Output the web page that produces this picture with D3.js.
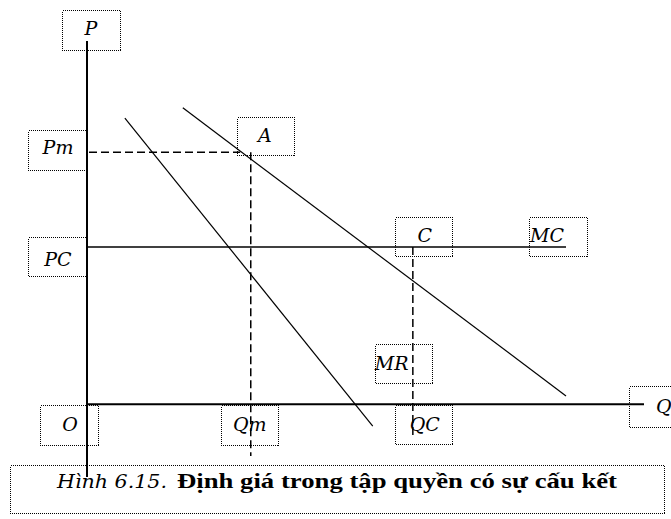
<!DOCTYPE html>
<html lang="vi">
<head>
<meta charset="UTF-8">
<title>Hình 6.15</title>
<script src="https://d3js.org/d3.v7.min.js"></script>
<style>
  body { margin: 0; background: #fff; }
  .lbl { font-family: "DejaVu Serif", serif; font-style: italic; font-size: 19px; }
</style>
</head>
<body>
<svg width="671" height="519"></svg>
<script>
// du lieu doc tu hinh (don vi tuy y)
var pAxis = [-2, 10];          // truc P (keo xuong duoi goc O)
var qAxis = [0, 10];           // truc Q
var demand = [{q: 1.72, p: 8.16}, {q: 8.6, p: 0.23}];   // duong cau (qua A, C)
var mr = [{q: 0.68, p: 7.88}, {q: 5.13, p: -0.6}];      // duong MR
var mcLevel = 4.33, mcEnd = 8.6;
var Pm = 6.94, Qm = 2.94, QC = 5.85;
var qmBottom = -1.42, qcBottom = -0.9, pmDashEnd = 2.75;
var labelText = ["P", "Pm", "A", "PC", "C", "MC", "MR", "O", "Qm", "QC", "Q"];
var caption1 = "Hình 6.15.", caption2 = "Định giá trong tập quyền có sự cấu kết";

var svg = d3.select("svg");
var x = d3.scaleLinear().domain(qAxis).range([87, 644]);
var y = d3.scaleLinear().domain(pAxis).range([477, 41]);

var line = d3.line().x(function(d){ return x(d.q); }).y(function(d){ return y(d.p); });

// khung chu thich duoi cung
svg.append("rect")
  .attr("x", 10.5).attr("y", 465.5).attr("width", 654).attr("height", 48)
  .attr("fill", "none").attr("stroke", "#000").attr("stroke-dasharray", "1,1")
  .attr("shape-rendering", "crispEdges");

svg.append("text").attr("x", 57).attr("y", 488).text(caption1)
  .attr("font-family", "DejaVu Serif").attr("font-style", "italic").attr("font-size", "18px")
  .attr("textLength", 110).attr("lengthAdjust", "spacingAndGlyphs");
svg.append("text").attr("x", 177).attr("y", 488).text(caption2)
  .attr("font-family", "Liberation Serif").attr("font-weight", "bold").attr("font-size", "21px")
  .attr("textLength", 440).attr("lengthAdjust", "spacingAndGlyphs");

// hop nhan (vien cham)
function box(x0, y0, w, h, t, anchor, tx, ty) {
  svg.append("rect")
    .attr("x", Math.round(x0) + 0.5).attr("y", Math.round(y0) + 0.5)
    .attr("width", w).attr("height", h)
    .attr("fill", "none").attr("stroke", "#000").attr("stroke-dasharray", "1,1")
    .attr("shape-rendering", "crispEdges");
  svg.append("text").attr("class", "lbl")
    .attr("x", tx).attr("y", ty).attr("text-anchor", anchor).text(t);
}

var bw = 57, bh = 39;
var o = x(0), base = y(0);
box(o - 25, y(pAxis[1]) - 31, 58, 40, labelText[0], "middle", o + 4, y(pAxis[1]) - 6);
box(o - 59, y(Pm) - 22, 59, 40, labelText[1], "middle", o - 29, y(Pm) + 2);
box(x(Qm) - 14, y(Pm) - 35, bw, 38, labelText[2], "middle", x(Qm) + 14, y(Pm) - 10);
box(o - 59, y(mcLevel) - 10, 59, 39, labelText[3], "middle", o - 29, y(mcLevel) + 19);
box(x(QC) - 18, y(mcLevel) - 30, bw, bh, labelText[4], "middle", x(QC) + 12, y(mcLevel) - 5);
box(x(mcEnd) - 37, y(mcLevel) - 30, 58, bh, labelText[5], "start", x(mcEnd) - 36, y(mcLevel) - 5);
box(x(QC) - 38, y(mcLevel) + 97, bw, bh, labelText[6], "start", x(QC) - 38, y(mcLevel) + 123);
box(o - 47, base + 1, 58, 40, labelText[7], "middle", o - 17, base + 27);
box(x(Qm) - 30, base + 1, bw, 40, labelText[8], "middle", x(Qm) - 1, base + 27);
box(x(QC) - 18, base + 1, bw, bh, labelText[9], "middle", x(QC) + 12, base + 27);
box(x(qAxis[1]) - 15, base - 18, 58, 41, labelText[10], "start", x(qAxis[1]) + 12, base + 9);

// truc toa do
svg.append("line")
  .attr("x1", x(0)).attr("x2", x(0)).attr("y1", y(pAxis[0])).attr("y2", y(pAxis[1]))
  .attr("stroke", "#000").attr("stroke-width", 2);
svg.append("line")
  .attr("x1", x(qAxis[0])).attr("x2", x(qAxis[1])).attr("y1", y(0)).attr("y2", y(0))
  .attr("stroke", "#000").attr("stroke-width", 2);

// MC
svg.append("line")
  .attr("x1", x(0)).attr("x2", x(mcEnd)).attr("y1", y(mcLevel)).attr("y2", y(mcLevel))
  .attr("stroke", "#000").attr("stroke-width", 1.6);

// duong cau va MR
svg.append("path").datum(demand).attr("d", line)
  .attr("fill", "none").attr("stroke", "#000").attr("stroke-width", 1.2);
svg.append("path").datum(mr).attr("d", line)
  .attr("fill", "none").attr("stroke", "#000").attr("stroke-width", 1.2);

// duong dut net
var dash = "8,4";
svg.append("line")
  .attr("x1", x(0) + 2).attr("x2", x(pmDashEnd)).attr("y1", y(Pm)).attr("y2", y(Pm))
  .attr("stroke", "#000").attr("stroke-width", 1.5).attr("stroke-dasharray", dash);
svg.append("line")
  .attr("x1", x(Qm)).attr("x2", x(Qm)).attr("y1", y(Pm)).attr("y2", y(qmBottom))
  .attr("stroke", "#000").attr("stroke-width", 1.5).attr("stroke-dasharray", dash);
svg.append("line")
  .attr("x1", x(QC)).attr("x2", x(QC)).attr("y1", y(mcLevel)).attr("y2", y(qcBottom))
  .attr("stroke", "#000").attr("stroke-width", 1.5).attr("stroke-dasharray", dash);
</script>
</body>
</html>
